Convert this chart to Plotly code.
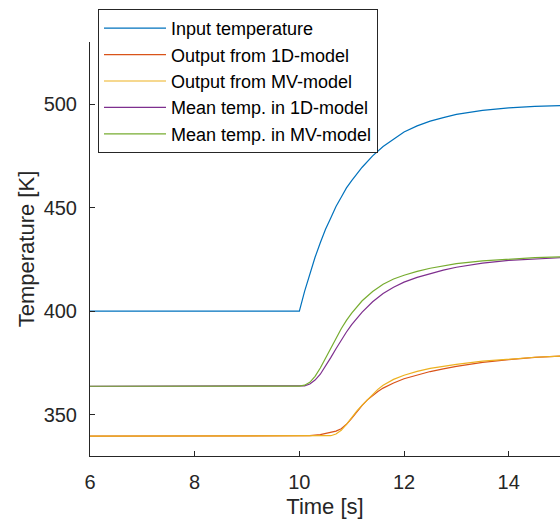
import plotly.graph_objects as go

# Time samples (s) and temperatures (K)
t_in = [6.0, 10.0, 10.1, 10.2, 10.3, 10.4, 10.5, 10.6, 10.7, 10.8, 10.9, 11.0, 11.2, 11.4, 11.6, 11.8,
        12.0, 12.25, 12.5, 12.75, 13.0, 13.5, 14.0, 14.5, 15.0]
T_in = [400.0, 400.0, 409.5, 418.0, 426.0, 433.0, 439.5, 445.0, 450.5, 455.0, 459.5, 463.0, 469.5, 475.0,
        479.5, 483.0, 486.5, 489.5, 491.8, 493.5, 495.0, 497.0, 498.2, 498.9, 499.3]

t_mid = [6.0, 10.0, 10.1, 10.2, 10.3, 10.4, 10.5, 10.6, 10.7, 10.8, 10.9, 11.0, 11.2, 11.4, 11.6, 11.8,
         12.0, 12.25, 12.5, 12.75, 13.0, 13.5, 14.0, 14.5, 15.0]
T_mean_1d = [363.7, 363.7, 363.9, 364.8, 366.7, 369.5, 373.2, 377.5, 381.8, 386.0, 389.9, 393.5, 399.5,
             404.5, 408.5, 411.5, 414.0, 416.3, 418.2, 419.8, 421.2, 423.2, 424.5, 425.3, 425.8]
T_mean_mv = [363.7, 363.8, 364.2, 365.6, 368.5, 372.5, 377.2, 382.0, 386.9, 391.5, 395.5, 399.0, 405.0,
             409.5, 413.0, 415.5, 417.3, 419.2, 420.7, 421.9, 422.9, 424.3, 425.2, 425.8, 426.2]

t_out_1d = [6.0, 10.0, 10.2, 10.4, 10.6, 10.7, 10.8, 10.9, 11.0, 11.1, 11.2, 11.3, 11.4, 11.5, 11.6, 11.8,
            12.0, 12.25, 12.5, 12.75, 13.0, 13.5, 14.0, 14.5, 15.0]
T_out_1d = [339.6, 339.6, 339.8, 340.3, 341.2, 342.0, 343.2, 345.3, 348.2, 351.5, 354.5, 357.1, 359.3,
            361.2, 362.8, 365.3, 367.3, 369.2, 370.8, 372.1, 373.3, 375.2, 376.6, 377.6, 378.3]

t_out_mv = [6.0, 10.5, 10.6, 10.7, 10.8, 10.9, 11.0, 11.1, 11.2, 11.3, 11.4, 11.5, 11.6, 11.8,
            12.0, 12.25, 12.5, 12.75, 13.0, 13.5, 14.0, 14.5, 15.0]
T_out_mv = [339.6, 339.6, 339.8, 340.6, 342.4, 345.3, 348.8, 351.8, 354.6, 357.3, 359.8, 362.2, 364.2,
            367.0, 369.0, 370.9, 372.3, 373.4, 374.3, 375.8, 376.9, 377.7, 378.3]

names = ["Input temperature", "Output from 1D-model", "Output from MV-model",
         "Mean temp. in 1D-model", "Mean temp. in MV-model"]
colors = ["#0072BD", "#D95319", "#EDB120", "#7E2F8E", "#77AC30"]

x_ticks = [6, 8, 10, 12, 14]
y_ticks = [350, 400, 450, 500]

series = [(t_in, T_in), (t_out_1d, T_out_1d), (t_out_mv, T_out_mv),
          (t_mid, T_mean_1d), (t_mid, T_mean_mv)]

fig = go.Figure()
for i, ((tx, ty), nm, c) in enumerate(zip(series, names, colors)):
    fig.add_trace(go.Scatter(
        x=tx, y=ty, mode="lines", name=nm, legendgroup=f"g{i}",
        line=dict(color=c, width=1.2),
    ))

axis_common = dict(
    showgrid=False, zeroline=False, showline=True, linecolor="#262626",
    linewidth=1, mirror=False, ticks="inside", ticklen=5, tickcolor="#262626",
    tickfont=dict(family="Liberation Sans, Arial", size=20, color="#262626"),
)

L, R, T, B = 90, 0, 42, 63
pw, ph = 560 - L - R, 519 - T - B

fig.update_layout(
    width=560, height=519,
    margin=dict(l=L, r=R, t=T, b=B, autoexpand=False),
    paper_bgcolor="white", plot_bgcolor="white",
    font=dict(family="Liberation Sans, Arial", color="#262626"),
    xaxis=dict(range=[6, 14.98], tickvals=x_ticks, ticklabelstandoff=8,
               title=dict(text="Time [s]", standoff=9,
                          font=dict(size=22, color="#262626")),
               **axis_common),
    yaxis=dict(range=[330, 530], tickvals=y_ticks, ticklabelstandoff=8,
               title=dict(text="Temperature [K]", standoff=2,
                          font=dict(size=22, color="#262626")),
               **axis_common),
    legend=dict(
        x=(98 - L) / pw, y=(519 - B - 9) / ph,
        xanchor="left", yanchor="top",
        bgcolor="white", bordercolor="#262626", borderwidth=1,
        font=dict(family="Liberation Sans, Arial", size=18, color="#000000"),
        tracegroupgap=0, itemwidth=62,
    ),
    showlegend=True,
)

fig.write_html("out.html")
